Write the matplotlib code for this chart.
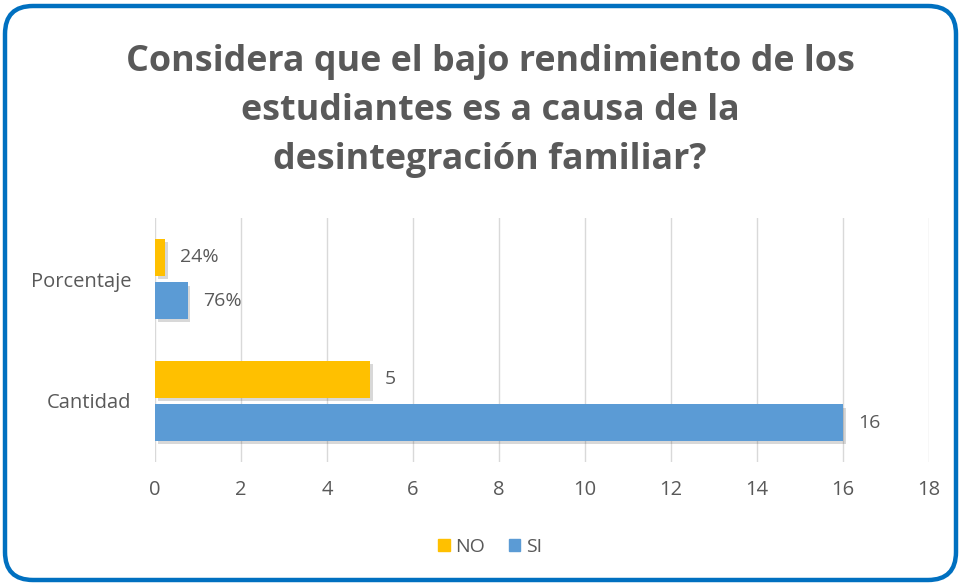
import matplotlib
matplotlib.use("Agg")
import matplotlib.pyplot as plt
from matplotlib.patches import FancyBboxPatch, Patch
import matplotlib.patheffects as pe
import numpy as np

categories = ["Cantidad", "Porcentaje"]
no_values = [5, 0.24]
si_values = [16, 0.76]
no_labels = ["5", "24%"]
si_labels = ["16", "76%"]
xticks = list(range(0, 19, 2))
title = "Considera que el bajo rendimiento de los\nestudiantes es a causa de la\ndesintegración familiar?"

plt.rcParams['font.family'] = ['Open Sans', 'DejaVu Sans']
TXT = "#595959"
YEL = "#FFC000"
BLU = "#5B9BD5"

W, H = 961, 585
fig = plt.figure(figsize=(W / 100, H / 100), dpi=100)

bg = fig.add_axes([0, 0, 1, 1])
bg.set_xlim(0, W)
bg.set_ylim(H, 0)
bg.axis("off")
frame = FancyBboxPatch((5, 6), W - 10, H - 11, boxstyle="round,pad=0,rounding_size=28",
                       facecolor="white", edgecolor="#0070C0", linewidth=3.2)
bg.add_patch(frame)

bg.text(490, 111, title, ha="center", va="center", fontsize=25.8, fontweight="bold",
        color=TXT, linespacing=1.5)

ax = fig.add_axes([155 / W, (H - 462) / H, (929 - 155) / W, 244 / H])
ax.set_xlim(0, 18)
ax.set_ylim(-0.5, 1.5)
y = np.arange(len(categories))
h = 0.3
gap = 0.028
shadow = [pe.SimplePatchShadow(offset=(2, -2.5), alpha=0.2, shadow_rgbFace="#404040"), pe.Normal()]
b_si = ax.barh(y - h / 2 - gap, si_values, height=h, color=BLU, zorder=3, path_effects=shadow)
b_no = ax.barh(y + h / 2 + gap, no_values, height=h, color=YEL, zorder=3, path_effects=shadow)
for bars, labs in ((b_si, si_labels), (b_no, no_labels)):
    for bar, lab in zip(bars, labs):
        ax.text(bar.get_width() + 0.35, bar.get_y() + bar.get_height() / 2, lab,
                va="center", ha="left", fontsize=14, color=TXT)

ax.set_xticks(xticks)
ax.set_yticks(y)
ax.set_yticklabels(categories)
ax.tick_params(axis="both", length=0, labelsize=14.5, colors=TXT)
ax.tick_params(axis="x", pad=13)
ax.tick_params(axis="y", pad=17)
ax.grid(axis="x", color="#D9D9D9", linewidth=1)
ax.set_axisbelow(True)
for s in ax.spines.values():
    s.set_visible(False)
ax.patch.set_alpha(0)

handles = [Patch(color=YEL, label="NO"), Patch(color=BLU, label="SI")]
fig.legend(handles=handles, loc="center", bbox_to_anchor=(490 / W, 1 - 547 / H), ncol=2,
           frameon=False, fontsize=14, handlelength=0.6, handleheight=0.6,
           handletextpad=0.3, columnspacing=1.2, labelcolor=TXT)

fig.savefig("out.png", dpi=100)
